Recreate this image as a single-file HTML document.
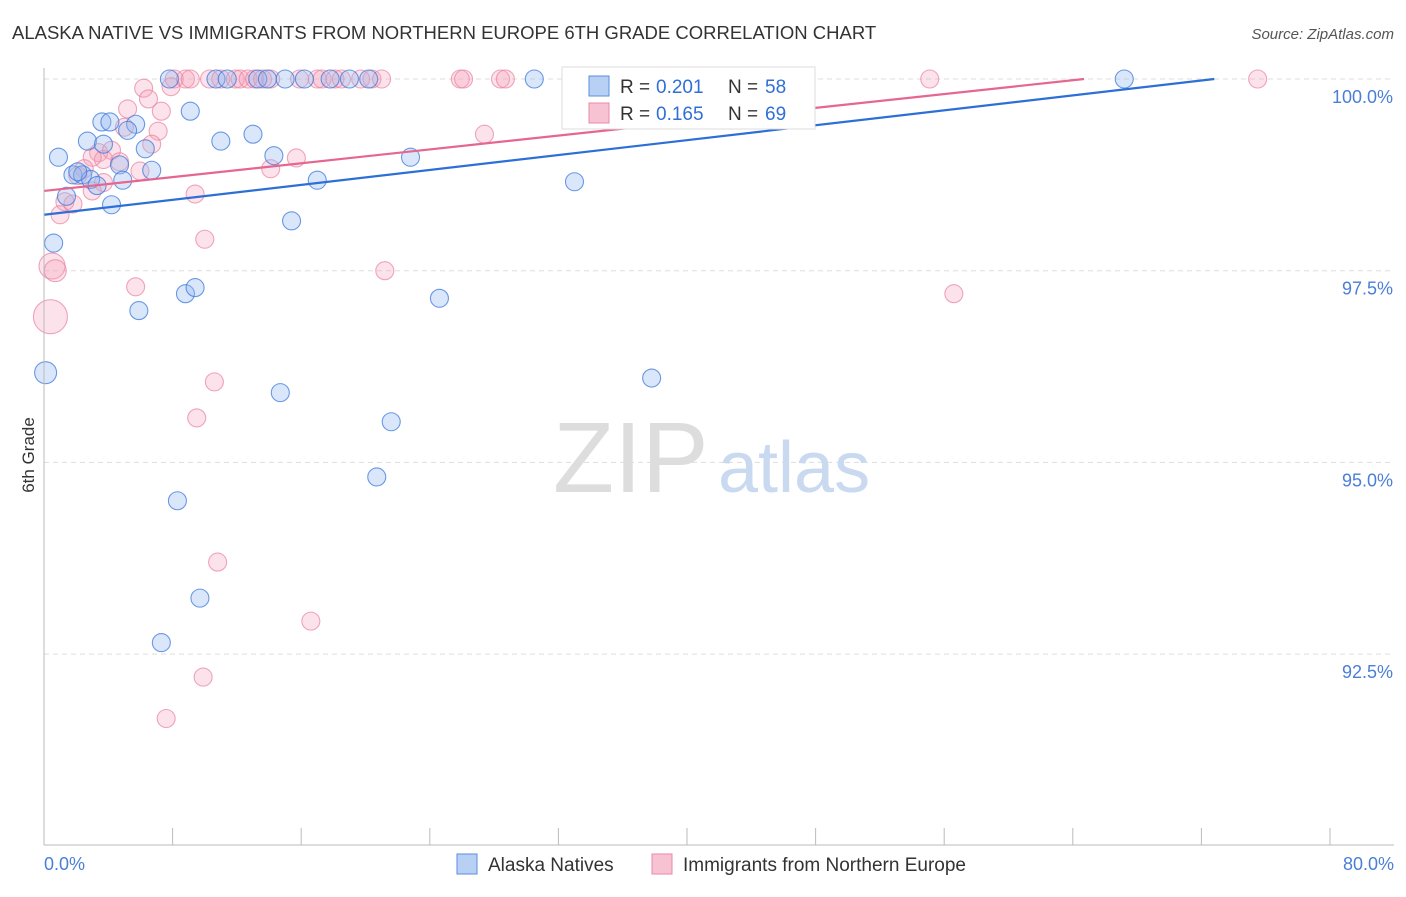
<!DOCTYPE html>
<html><head><meta charset="utf-8"><style>
body{margin:0;background:#fff;font-family:"Liberation Sans",sans-serif;}
svg text{font-family:"Liberation Sans",sans-serif;}
</style></head><body>
<svg id="chart" width="1406" height="892">
<text x="12" y="39" font-size="18.5" fill="#333">ALASKA NATIVE VS IMMIGRANTS FROM NORTHERN EUROPE 6TH GRADE CORRELATION CHART</text>
<text x="1394" y="39" font-size="15" fill="#555" text-anchor="end" font-style="italic">Source: ZipAtlas.com</text>
<text transform="translate(34,455) rotate(-90)" font-size="17" fill="#333" text-anchor="middle">6th Grade</text>
<g id="grid"></g>
<text x="553" y="492" font-size="100" fill="#ddd" font-family="Liberation Serif">ZIP</text>
<text x="718" y="492" font-size="72" fill="#c9d9f0">atlas</text>
<g id="pts"></g>
<g id="trend"></g>
<g id="axes"></g>
<g>
<rect x="562" y="67" width="253" height="62" fill="#fff" stroke="#ddd"/>
<rect x="589" y="76" width="20" height="20" fill="#b8d0f3" stroke="#5b8ee0"/>
<rect x="589" y="103" width="20" height="20" fill="#f7c3d2" stroke="#e88aa8"/>
<text x="620" y="93" font-size="19" fill="#333">R = </text>
<text x="656" y="93" font-size="19" fill="#2f6fd6">0.201</text>
<text x="728" y="93" font-size="19" fill="#333">N = </text>
<text x="765" y="93" font-size="19" fill="#2f6fd6">58</text>
<text x="620" y="120" font-size="19" fill="#333">R = </text>
<text x="656" y="120" font-size="19" fill="#2f6fd6">0.165</text>
<text x="728" y="120" font-size="19" fill="#333">N = </text>
<text x="765" y="120" font-size="19" fill="#2f6fd6">69</text>
</g>
<g>
<rect x="457" y="854" width="20" height="20" fill="#b8d0f3" stroke="#5b8ee0"/>
<text x="488" y="871" font-size="19" fill="#333">Alaska Natives</text>
<rect x="652" y="854" width="20" height="20" fill="#f7c3d2" stroke="#e88aa8"/>
<text x="683" y="871" font-size="19" fill="#333">Immigrants from Northern Europe</text>
</g>
</svg>
<script>
const yTicks=[100,97.5,95,92.5];
const yTickLabels=["100.0%","97.5%","95.0%","92.5%"];
const xTicks=[0,8,16,24,32,40,48,56,64,72,80];
const blueXv=[7.8,10.7,11.4,13.3,13.9,15.0,16.2,17.8,19.0,20.2,30.5,41.6,46.4,67.2,9.1,3.6,5.7,2.7,5.2,11.0,13.0,0.9,6.3,14.3,22.8,1.8,2.4,4.7,6.7,2.9,3.3,4.9,17.0,33.0,1.4,4.2,15.4,0.6,5.9,8.8,9.4,24.6,0.1,14.7,37.8,21.6,20.7,8.3,9.7,7.3,2.1,3.7,4.1];
const blueYv=[100,100,100,100,100,100,100,100,100,100,100,100,100,100,99.58,99.44,99.41,99.19,99.33,99.19,99.28,98.98,99.09,99.0,98.98,98.75,98.75,98.88,98.81,98.69,98.61,98.68,98.68,98.66,98.47,98.36,98.15,97.86,96.98,97.2,97.28,97.14,96.17,95.91,96.1,95.53,94.81,94.5,93.23,92.65,98.79,99.15,99.44];
const blueR=[9,9,9,9,9,9,9,9,9,9,9,9,9,9,9,9,9,9,9,9,9,9,9,9,9,9,9,9,9,9,9,9,9,9,9,9,9,9,9,9,9,9,11,9,9,9,9,9,9,9,9,9,9];
const pinkXv=[8.1,8.8,9.1,10.3,11.0,11.9,12.2,12.7,13.1,13.6,14.1,15.9,17.0,17.3,18.1,18.5,19.7,20.4,21.0,25.9,26.1,28.4,28.7,33.0,55.1,75.5,6.2,7.9,6.5,5.2,7.3,5.0,7.1,3.4,4.2,4.7,3.7,3.0,6.7,15.7,14.1,2.5,5.97,2.1,1.3,1.8,1.0,9.4,27.4,10.0,0.5,0.7,21.2,5.7,56.6,0.4,10.6,9.5,10.8,16.6,9.9,7.6,3.7,3.0];
const pinkYv=[100,100,100,100,100,100,100,100,100,100,100,100,100,100,100,100,100,100,100,100,100,100,100,100,100,100,99.88,99.9,99.74,99.61,99.58,99.37,99.32,99.04,99.07,98.92,98.95,98.98,99.15,98.97,98.83,98.83,98.8,98.74,98.4,98.37,98.23,98.5,99.28,97.91,97.56,97.5,97.5,97.29,97.2,96.9,96.05,95.58,93.7,92.93,92.2,91.66,98.65,98.54];
const pinkR=[9,9,9,9,9,9,9,9,9,9,9,9,9,9,9,9,9,9,9,9,9,9,9,9,9,9,9,9,9,9,9,9,9,9,9,9,9,9,9,9,9,9,9,9,9,9,9,9,9,9,13,11,9,9,9,17,9,9,9,9,9,9,9,9];
const blueTrend=[0,98.23,72.8,100];
const pinkTrend=[0,98.54,64.7,100];
const NS='http://www.w3.org/2000/svg';
function X(v){return 44+v/80*1286;}
function Y(v){return 79+(100-v)/2.5*191.7;}
function mk(t,a,p){const e=document.createElementNS(NS,t);for(const k in a)e.setAttribute(k,a[k]);p.appendChild(e);return e;}
const grid=document.getElementById('grid'),axes=document.getElementById('axes'),pts=document.getElementById('pts'),tr=document.getElementById('trend');
yTicks.forEach((v,i)=>{
 const l=mk('line',{x1:44,x2:1394,y1:Y(v),y2:Y(v),stroke:'#ddd','stroke-dasharray':'5,4'},grid);
 
 
 const t=mk('text',{x:1393,y:Y(v)+24,'font-size':18,fill:'#4a7fd6','text-anchor':'end'},axes);
 t.textContent=yTickLabels[i];
 
 
});
const ax=mk('line',{x1:44,x2:44,y1:68,y2:845,stroke:'#bbb'},axes);


const bx=mk('line',{x1:44,x2:1394,y1:845,y2:845,stroke:'#bbb'},axes);


xTicks.forEach(v=>{
 const l=mk('line',{x1:X(v),x2:X(v),y1:828,y2:845,stroke:'#bbb'},axes);
 
 
});
const xl0=mk('text',{x:44,y:870,'font-size':18,fill:'#4a7fd6'},axes);xl0.textContent='0.0%';


const xl1=mk('text',{x:1394,y:870,'font-size':18,fill:'#4a7fd6','text-anchor':'end'},axes);xl1.textContent='80.0%';


function series(xs,ys,rs,fill,stroke,name){
 xs.forEach((x,i)=>{
  const c=mk('circle',{cx:X(x),cy:Y(ys[i]),r:rs[i],fill:fill,stroke:stroke,'stroke-width':1.1},pts);
  
  
 });
}
series(pinkXv,pinkYv,pinkR,'rgba(244,160,185,0.3)','rgba(232,130,160,0.7)','point-immigrants');
series(blueXv,blueYv,blueR,'rgba(150,185,240,0.35)','rgba(60,120,220,0.75)','point-alaska');
const bl=mk('line',{x1:X(blueTrend[0]),y1:Y(blueTrend[1]),x2:X(blueTrend[2]),y2:Y(blueTrend[3]),stroke:'#2c6fd6','stroke-width':2.2},tr);


const pl=mk('line',{x1:X(pinkTrend[0]),y1:Y(pinkTrend[1]),x2:X(pinkTrend[2]),y2:Y(pinkTrend[3]),stroke:'#e5668f','stroke-width':2.2},tr);


</script>
</body></html>
